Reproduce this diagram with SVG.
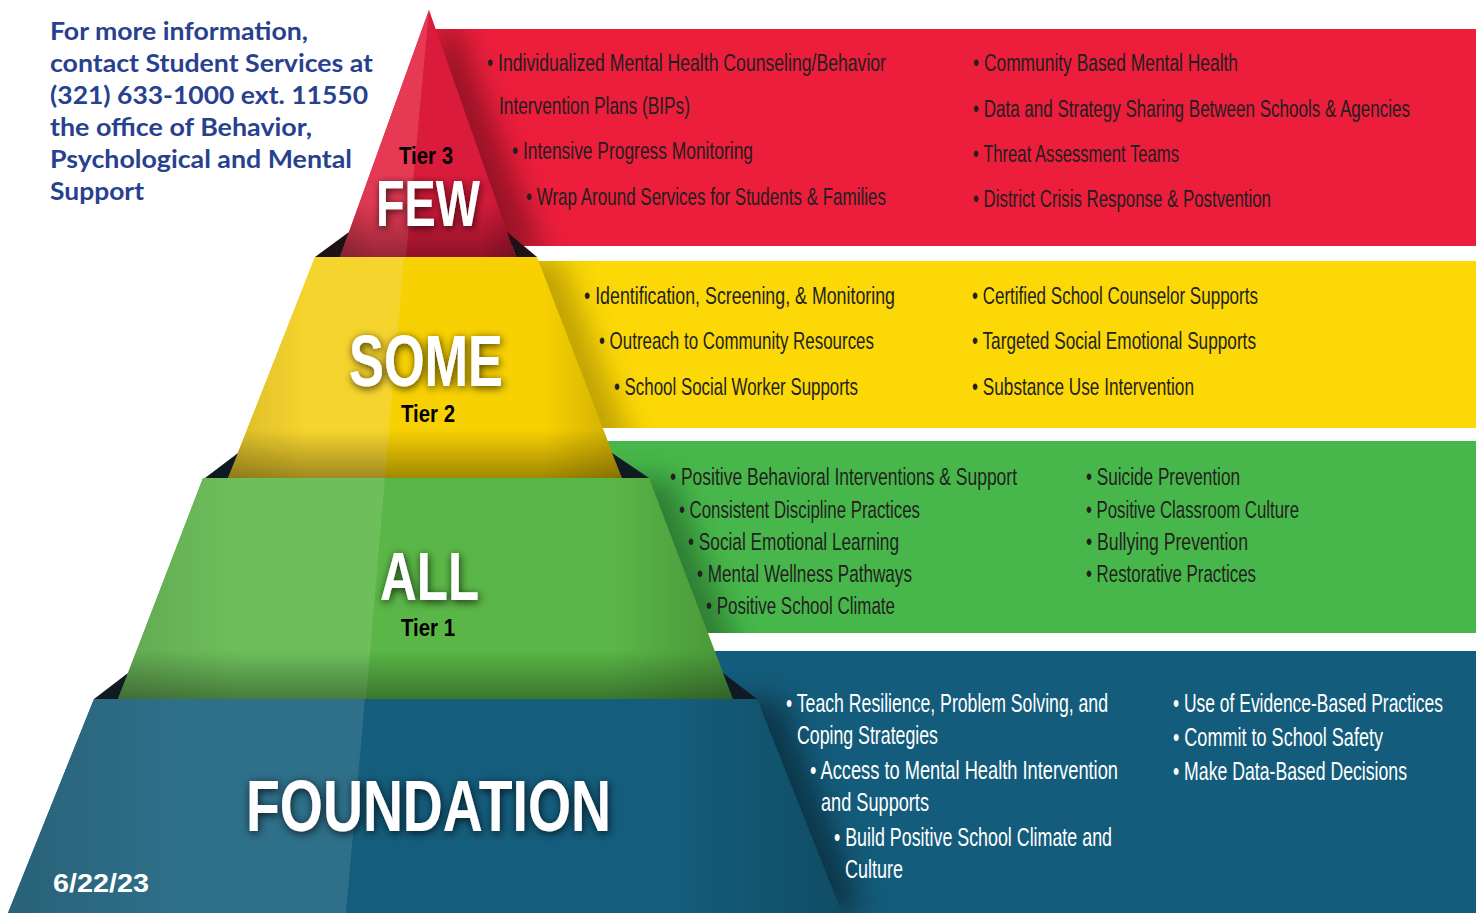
<svg xmlns="http://www.w3.org/2000/svg" width="1481" height="913" viewBox="0 0 1481 913">
<style>
.t{font-family:"Liberation Sans Narrow","Liberation Sans",Arial,sans-serif;font-size:24px;fill:#231F20}
.w{font-family:"Liberation Sans Narrow","Liberation Sans",Arial,sans-serif;font-size:25px;fill:#FFFFFF}
.big{font-family:"Liberation Sans Narrow","Liberation Sans",Arial,sans-serif;font-weight:bold;fill:#FFFFFF}
.tier{font-family:"Liberation Sans Narrow","Liberation Sans",Arial,sans-serif;font-weight:bold;font-size:24px;fill:#000000}
.info{font-family:Lato,"Open Sans",sans-serif;font-weight:bold;font-size:25px;fill:#27418F}
.dark{fill:#1E1216}
.darkb{fill:#0F1A22}
</style>
<defs>
<filter id="glow" x="-20%" y="-30%" width="140%" height="160%">
<feGaussianBlur in="SourceAlpha" stdDeviation="4"/>
<feOffset dx="1" dy="2" result="b"/>
<feFlood flood-color="#000" flood-opacity="0.75"/>
<feComposite in2="b" operator="in"/>
<feMerge><feMergeNode/><feMergeNode in="SourceGraphic"/></feMerge>
</filter>
<filter id="soft" x="-50%" y="-50%" width="200%" height="200%">
<feGaussianBlur stdDeviation="14"/>
</filter>
<linearGradient id="bottomShade" x1="0" y1="0" x2="0" y2="1">
<stop offset="0.78" stop-color="#000" stop-opacity="0"/>
<stop offset="1" stop-color="#000" stop-opacity="0.35"/>
</linearGradient>
<linearGradient id="sideShade" x1="0" y1="0" x2="1" y2="0">
<stop offset="0" stop-color="#000" stop-opacity="0.12"/>
<stop offset="0.2" stop-color="#000" stop-opacity="0"/>
<stop offset="0.8" stop-color="#000" stop-opacity="0"/>
<stop offset="1" stop-color="#000" stop-opacity="0.18"/>
</linearGradient>
<clipPath id="cRed"><rect x="430" y="29" width="1046" height="217"/></clipPath>
<clipPath id="cYel"><rect x="520" y="261" width="956" height="167"/></clipPath>
<clipPath id="cGrn"><rect x="600" y="441" width="876" height="192"/></clipPath>
<clipPath id="cBlu"><rect x="700" y="651" width="776" height="262"/></clipPath>
</defs>
<rect width="1481" height="913" fill="#FFFFFF"/>

<g id="info-text">
<text class="info" x="50" y="40" textLength="258" lengthAdjust="spacingAndGlyphs">For more information,</text>
<text class="info" x="50" y="72" textLength="323" lengthAdjust="spacingAndGlyphs">contact Student Services at</text>
<text class="info" x="50" y="104" textLength="318" lengthAdjust="spacingAndGlyphs">(321) 633-1000 ext. 11550</text>
<text class="info" x="50" y="136" textLength="262" lengthAdjust="spacingAndGlyphs">the office of Behavior,</text>
<text class="info" x="50" y="168" textLength="302" lengthAdjust="spacingAndGlyphs">Psychological and Mental</text>
<text class="info" x="50" y="200" textLength="94" lengthAdjust="spacingAndGlyphs">Support</text>
</g>

<g id="band-red">
<rect x="430" y="29" width="1046" height="217" fill="#EC1E3C"/>
<g clip-path="url(#cRed)"><polygon points="450,10 545,257 360,257" fill="#000" opacity="0.35" filter="url(#soft)"/></g>
<g transform="scale(0.72 1)">
<text class="t" x="676.39" y="71" textLength="554.17" lengthAdjust="spacingAndGlyphs">• Individualized Mental Health Counseling/Behavior</text>
<text class="t" x="693.06" y="114" textLength="265.28" lengthAdjust="spacingAndGlyphs">Intervention Plans (BIPs)</text>
<text class="t" x="711.11" y="159" textLength="334.72" lengthAdjust="spacingAndGlyphs">• Intensive Progress Monitoring</text>
<text class="t" x="730.56" y="205" textLength="500" lengthAdjust="spacingAndGlyphs">• Wrap Around Services for Students &amp; Families</text>
<text class="t" x="1351.39" y="71" textLength="368.06" lengthAdjust="spacingAndGlyphs">• Community Based Mental Health</text>
<text class="t" x="1351.39" y="117" textLength="606.94" lengthAdjust="spacingAndGlyphs">• Data and Strategy Sharing Between Schools &amp; Agencies</text>
<text class="t" x="1351.39" y="162" textLength="286.11" lengthAdjust="spacingAndGlyphs">• Threat Assessment Teams</text>
<text class="t" x="1351.39" y="207" textLength="413.89" lengthAdjust="spacingAndGlyphs">• District Crisis Response &amp; Postvention</text>
</g>
</g>

<g id="band-yellow">
<rect x="520" y="261" width="956" height="167" fill="#FBD806"/>
<g clip-path="url(#cYel)"><polygon points="335,257 560,257 645,478 248,478" fill="#6B5200" opacity="0.4" filter="url(#soft)"/></g>
<g transform="scale(0.72 1)">
<text class="t" x="811.11" y="304" textLength="431.94" lengthAdjust="spacingAndGlyphs">• Identification, Screening, &amp; Monitoring</text>
<text class="t" x="831.94" y="349" textLength="381.94" lengthAdjust="spacingAndGlyphs">• Outreach to Community Resources</text>
<text class="t" x="852.78" y="395" textLength="338.89" lengthAdjust="spacingAndGlyphs">• School Social Worker Supports</text>
<text class="t" x="1350" y="304" textLength="397.22" lengthAdjust="spacingAndGlyphs">• Certified School Counselor Supports</text>
<text class="t" x="1350" y="349" textLength="394.44" lengthAdjust="spacingAndGlyphs">• Targeted Social Emotional Supports</text>
<text class="t" x="1350" y="395" textLength="308.33" lengthAdjust="spacingAndGlyphs">• Substance Use Intervention</text>
</g>
</g>

<g id="band-green">
<rect x="600" y="441" width="876" height="192" fill="#48B74B"/>
<g clip-path="url(#cGrn)"><polygon points="223,478 672,478 756,699 138,699" fill="#0B3A12" opacity="0.45" filter="url(#soft)"/></g>
<g transform="scale(0.72 1)">
<text class="t" x="930.56" y="485" textLength="481.94" lengthAdjust="spacingAndGlyphs">• Positive Behavioral Interventions &amp; Support</text>
<text class="t" x="943.06" y="518" textLength="334.72" lengthAdjust="spacingAndGlyphs">• Consistent Discipline Practices</text>
<text class="t" x="955.56" y="550" textLength="293.06" lengthAdjust="spacingAndGlyphs">• Social Emotional Learning</text>
<text class="t" x="968.06" y="582" textLength="298.61" lengthAdjust="spacingAndGlyphs">• Mental Wellness Pathways</text>
<text class="t" x="980.56" y="614" textLength="262.5" lengthAdjust="spacingAndGlyphs">• Positive School Climate</text>
<text class="t" x="1508.33" y="485" textLength="213.89" lengthAdjust="spacingAndGlyphs">• Suicide Prevention</text>
<text class="t" x="1508.33" y="518" textLength="295.83" lengthAdjust="spacingAndGlyphs">• Positive Classroom Culture</text>
<text class="t" x="1508.33" y="550" textLength="225" lengthAdjust="spacingAndGlyphs">• Bullying Prevention</text>
<text class="t" x="1508.33" y="582" textLength="236.11" lengthAdjust="spacingAndGlyphs">• Restorative Practices</text>
</g>
</g>

<g id="band-blue">
<rect x="700" y="651" width="776" height="262" fill="#145C7B"/>
<g clip-path="url(#cBlu)"><polygon points="114,699 780,699 865,913 28,913" fill="#000" opacity="0.4" filter="url(#soft)"/></g>
<g transform="scale(0.72 1)">
<text class="w" x="1091.67" y="712" textLength="447.22" lengthAdjust="spacingAndGlyphs">• Teach Resilience, Problem Solving, and</text>
<text class="w" x="1106.94" y="744" textLength="195.83" lengthAdjust="spacingAndGlyphs">Coping Strategies</text>
<text class="w" x="1125" y="779" textLength="427.78" lengthAdjust="spacingAndGlyphs">• Access to Mental Health Intervention</text>
<text class="w" x="1140.28" y="811" textLength="150" lengthAdjust="spacingAndGlyphs">and Supports</text>
<text class="w" x="1158.33" y="846" textLength="386.11" lengthAdjust="spacingAndGlyphs">• Build Positive School Climate and</text>
<text class="w" x="1173.61" y="878" textLength="80.56" lengthAdjust="spacingAndGlyphs">Culture</text>
<text class="w" x="1629.17" y="712" textLength="375" lengthAdjust="spacingAndGlyphs">• Use of Evidence-Based Practices</text>
<text class="w" x="1629.17" y="746" textLength="291.67" lengthAdjust="spacingAndGlyphs">• Commit to School Safety</text>
<text class="w" x="1629.17" y="780" textLength="325" lengthAdjust="spacingAndGlyphs">• Make Data-Based Decisions</text>
</g>
</g>

<g id="tier-foundation">
<polygon points="94,699 757,699 842,913 8,913" fill="#145D7C"/>
<polygon points="94,699 365,699 346,913 8,913" fill="#2E6F89"/>
<polygon points="94,699 757,699 842,913 8,913" fill="url(#sideShade)"/>
<text class="big" x="246" y="831" font-size="72" textLength="365" lengthAdjust="spacingAndGlyphs" filter="url(#glow)">FOUNDATION</text>
<text class="big" x="53" y="892" font-size="26" textLength="96" lengthAdjust="spacingAndGlyphs">6/22/23</text>
</g>

<g id="tier-1">
<polygon points="203,478 649,478 733,699 118,699" fill="#5AB646"/>
<polygon points="203,478 385,478 366,699 118,699" fill="#6EBF5C"/>
<polygon points="203,478 649,478 733,699 118,699" fill="url(#sideShade)"/>
<polygon points="203,478 649,478 733,699 118,699" fill="url(#bottomShade)"/>
<polygon class="darkb" points="94,699 128,673 118,699"/>
<polygon class="darkb" points="723,673 757,699 733,699"/>
<text class="big" x="380" y="600" font-size="68" textLength="99" lengthAdjust="spacingAndGlyphs" filter="url(#glow)">ALL</text>
<text class="tier" x="401" y="636" textLength="54" lengthAdjust="spacingAndGlyphs">Tier 1</text>
</g>

<g id="tier-2">
<polygon points="315,257 537,257 622,478 228,478" fill="#F8D102"/>
<polygon points="315,257 404,257 385,478 228,478" fill="#F6D42E"/>
<polygon points="315,257 537,257 622,478 228,478" fill="url(#sideShade)"/>
<polygon points="315,257 537,257 622,478 228,478" fill="url(#bottomShade)"/>
<polygon class="darkb" points="205,478 238,453 228,478"/>
<polygon class="darkb" points="612,453 649,478 622,478"/>
<text class="big" x="349" y="386" font-size="72" textLength="154" lengthAdjust="spacingAndGlyphs" filter="url(#glow)">SOME</text>
<text class="tier" x="401" y="422" textLength="54" lengthAdjust="spacingAndGlyphs">Tier 2</text>
</g>

<g id="tier-3">
<polygon points="429,10 516,257 340,257" fill="#DB1B3C"/>
<polygon points="429,10 406,257 340,257" fill="#E63A54"/>
<polygon points="429,10 516,257 340,257" fill="url(#sideShade)"/>
<polygon points="429,10 516,257 340,257" fill="url(#bottomShade)"/>
<polygon class="dark" points="315,257 349,232 340,257"/>
<polygon class="dark" points="507,232 537,257 516,257"/>
<text class="tier" x="399" y="164" textLength="54" lengthAdjust="spacingAndGlyphs">Tier 3</text>
<text class="big" x="376" y="226" font-size="64" textLength="104" lengthAdjust="spacingAndGlyphs" filter="url(#glow)">FEW</text>
</g>
</svg>
